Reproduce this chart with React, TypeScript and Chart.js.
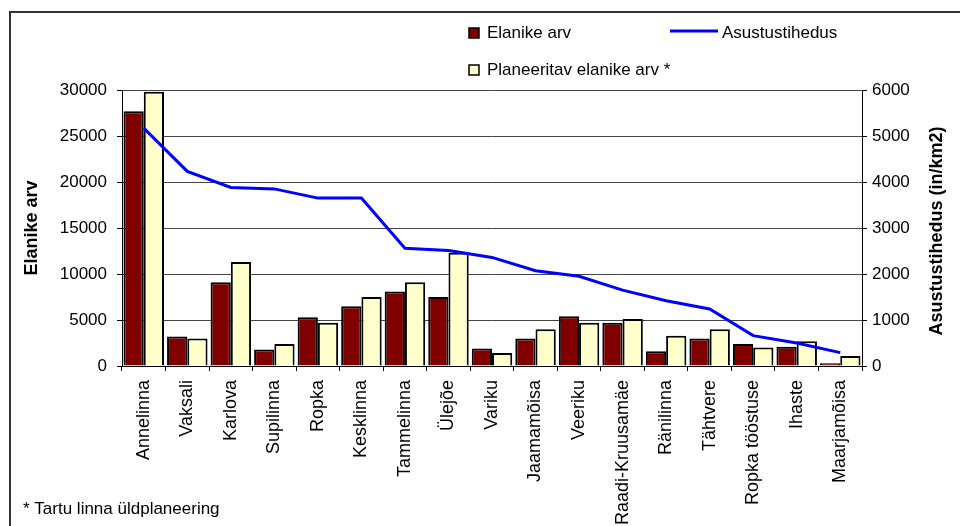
import React, { useEffect, useRef } from 'react';
import { Chart, registerables } from 'chart.js';

Chart.register(...registerables);

const categories = [
  'Annelinna', 'Vaksali', 'Karlova', 'Supilinna', 'Ropka', 'Kesklinna', 'Tammelinna', 'Ülejõe',
  'Variku', 'Jaamamõisa', 'Veeriku', 'Raadi-Kruusamäe', 'Ränilinna', 'Tähtvere', 'Ropka tööstuse',
  'Ihaste', 'Maarjamõisa',
];
const elanikeArv = [27700, 3200, 9100, 1800, 5300, 6500, 8100, 7500, 1900, 3000, 5400, 4700, 1600, 3000, 2400, 2100, 300];
const planeeritavElanikeArv = [29800, 3000, 11300, 2400, 4700, 7500, 9100, 12300, 1400, 4000, 4700, 5100, 3300, 4000, 2000, 2700, 1100];
const asustustihedus = [5170, 4230, 3880, 3850, 3650, 3650, 2560, 2510, 2360, 2070, 1950, 1650, 1420, 1240, 660, 500, 290];

const seriesNames = ['Elanike arv', 'Planeeritav elanike arv *', 'Asustustihedus'];
const leftAxisTitle = 'Elanike arv';
const rightAxisTitle = 'Asustustihedus (in/km2)';
const footnote = '* Tartu linna üldplaneering';

const FONT = '"Liberation Sans", Arial, sans-serif';
const DARK = '#800000';
const LIGHT = '#FFFFCC';
const BLUE = '#0000FF';

const decorPlugin = {
  id: 'decor',
  afterDraw(chart: any) {
    const ctx = chart.ctx as CanvasRenderingContext2D;
    const area = chart.chartArea;
    const midY = (area.top + area.bottom) / 2;
    ctx.save();
    // outer border
    ctx.strokeStyle = '#333';
    ctx.lineWidth = 2;
    ctx.strokeRect(10, 12, 1000, 600);

    // axis titles
    ctx.fillStyle = '#000';
    ctx.font = `bold 18px ${FONT}`;
    ctx.textAlign = 'center';
    ctx.textBaseline = 'middle';
    ctx.save();
    ctx.translate(32, midY);
    ctx.rotate(-Math.PI / 2);
    ctx.fillText(leftAxisTitle, 0, 0);
    ctx.restore();
    ctx.save();
    ctx.translate(937, midY + 3);
    ctx.rotate(-Math.PI / 2);
    ctx.fillText(rightAxisTitle, 0, 0);
    ctx.restore();

    // legend
    const ds = chart.data.datasets;
    ctx.font = `17px ${FONT}`;
    ctx.textAlign = 'left';
    ctx.lineWidth = 1.5;
    ctx.strokeStyle = '#000';
    ctx.fillStyle = DARK;
    ctx.fillRect(469, 28, 10, 10);
    ctx.strokeRect(469, 28, 10, 10);
    ctx.fillStyle = '#000';
    ctx.fillText(ds[0].label, 487, 33);
    ctx.strokeStyle = BLUE;
    ctx.lineWidth = 3;
    ctx.beginPath();
    ctx.moveTo(670, 31);
    ctx.lineTo(718, 31);
    ctx.stroke();
    ctx.fillText(ds[2].label, 722, 33);
    ctx.lineWidth = 1.5;
    ctx.strokeStyle = '#000';
    ctx.fillStyle = LIGHT;
    ctx.fillRect(469, 65, 10, 10);
    ctx.strokeRect(469, 65, 10, 10);
    ctx.fillStyle = '#000';
    ctx.fillText(ds[1].label, 487, 70);

    // footnote
    ctx.fillText(footnote, 23, 509);
    ctx.restore();
  },
};

export default function App() {
  const canvasRef = useRef<HTMLCanvasElement | null>(null);

  useEffect(() => {
    document.body.style.margin = '0';
    const canvas = canvasRef.current;
    if (!canvas) return;
    const chart = new Chart(canvas, {
      type: 'bar',
      data: {
        labels: categories,
        datasets: [
          {
            type: 'bar',
            label: seriesNames[0],
            data: elanikeArv,
            backgroundColor: DARK,
            borderColor: '#000',
            borderWidth: 2,
            yAxisID: 'y',
            order: 1,
            categoryPercentage: 0.93,
            barPercentage: 1.0,
          },
          {
            type: 'bar',
            label: seriesNames[1],
            data: planeeritavElanikeArv,
            backgroundColor: LIGHT,
            borderColor: '#000',
            borderWidth: 2,
            yAxisID: 'y',
            order: 1,
            categoryPercentage: 0.93,
            barPercentage: 1.0,
          },
          {
            type: 'line',
            label: seriesNames[2],
            data: asustustihedus,
            borderColor: BLUE,
            backgroundColor: BLUE,
            borderWidth: 3,
            pointRadius: 0,
            tension: 0,
            yAxisID: 'y1',
            order: 0,
          },
        ] as any,
      },
      options: {
        responsive: false,
        animation: false,
        layout: { padding: { top: 90, left: 0, right: 0, bottom: 0 } },
        plugins: {
          legend: { display: false },
          tooltip: { enabled: false },
          title: { display: false },
        },
        scales: {
          x: {
            type: 'category',
            offset: true,
            grid: {
              display: true,
              offset: true,
              drawOnChartArea: false,
              drawTicks: true,
              tickLength: 5,
              color: '#000',
              tickColor: '#000',
            },
            border: { display: true, color: '#000', width: 1 },
            ticks: {
              autoSkip: false,
              minRotation: 90,
              maxRotation: 90,
              padding: 9,
              color: '#000',
              font: { family: FONT, size: 18 },
            },
            afterFit: (scale: any) => {
              scale.height = 160;
            },
          },
          y: {
            position: 'left',
            min: 0,
            max: 30000,
            grid: {
              color: '#444',
              tickColor: '#000',
              tickLength: 5,
              drawTicks: true,
            },
            border: { display: true, color: '#000', width: 1 },
            ticks: {
              stepSize: 5000,
              padding: 10,
              color: '#000',
              font: { family: FONT, size: 17 },
              callback: (v: any) => String(v),
            },
            afterFit: (scale: any) => {
              scale.width = 122;
            },
          },
          y1: {
            position: 'right',
            min: 0,
            max: 6000,
            grid: {
              drawOnChartArea: false,
              tickColor: '#000',
              tickLength: 5,
              drawTicks: true,
            },
            border: { display: true, color: '#000', width: 1 },
            ticks: {
              stepSize: 1000,
              padding: 5,
              color: '#000',
              font: { family: FONT, size: 17 },
              callback: (v: any) => String(v),
            },
            afterFit: (scale: any) => {
              scale.width = 98;
            },
          },
        },
      } as any,
      plugins: [decorPlugin],
    });
    return () => chart.destroy();
  }, []);

  return (
    <div style={{ position: 'absolute', left: 0, top: 0, width: 960, height: 526, background: '#fff' }}>
      <canvas ref={canvasRef} width={960} height={526} style={{ width: 960, height: 526 }} />
    </div>
  );
}
